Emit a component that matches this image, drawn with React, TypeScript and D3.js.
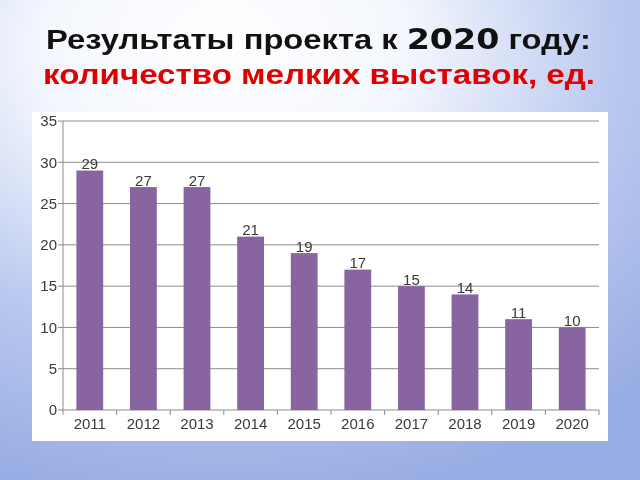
import React from "react";
import * as d3 from "d3";

const years = ["2011", "2012", "2013", "2014", "2015", "2016", "2017", "2018", "2019", "2020"];
const values = [29, 27, 27, 21, 19, 17, 15, 14, 11, 10];
const yTicks = [0, 5, 10, 15, 20, 25, 30, 35];
const titleLine1a = "Результаты проекта к ";
const titleLine1b = "2020";
const titleLine1c = " году:";
const titleLine2 = "количество мелких выставок, ед.";

const W = 640;
const H = 480;
const plot = { left: 63, right: 599, top: 121, bottom: 410 };

export default function App() {
  const x = d3.scaleBand<string>().domain(years).range([plot.left, plot.right]).paddingInner(0.5).paddingOuter(0.25);
  const xCat = d3.scaleBand<string>().domain(years).range([plot.left, plot.right]);
  const y = d3.scaleLinear().domain([0, 35]).range([plot.bottom, plot.top]);
  const font = "'Liberation Sans', Arial, sans-serif";

  return (
    <svg width={W} height={H} style={{ position: "fixed", left: 0, top: 0 }} fontFamily={font}>
      <defs>
        <radialGradient id="bg" cx="0.35" cy="0.1" r="0.95">
          <stop offset="0" stopColor="#ffffff" />
          <stop offset="0.3" stopColor="#f4f7fd" />
          <stop offset="0.65" stopColor="#b9c8ef" />
          <stop offset="1" stopColor="#98ade3" />
        </radialGradient>
      </defs>
      <rect x={0} y={0} width={W} height={H} fill="url(#bg)" />
      <text x={46} y={49} fontSize={27.5} fontWeight="bold" fill="#111" textLength={545} lengthAdjust="spacingAndGlyphs">
        {titleLine1a}
        <tspan fontFamily="'DejaVu Sans', Verdana, sans-serif" fontSize={28}>{titleLine1b}</tspan>
        {titleLine1c}
      </text>
      <text x={43} y={84} fontSize={28.5} fontWeight="bold" fill="#e00000" textLength={552} lengthAdjust="spacingAndGlyphs">
        {titleLine2}
      </text>
      <rect x={32} y={112} width={576} height={329} fill="#ffffff" />
      {yTicks.map((t) => (
        <g key={t}>
          <line x1={plot.left - 5} x2={plot.right} y1={y(t)} y2={y(t)} stroke="#8c8c8c" strokeWidth={1} />
          <text x={plot.left - 6} y={y(t)} dy="0.35em" textAnchor="end" fontSize={15} fill="#3a3a3a">
            {t}
          </text>
        </g>
      ))}
      <line x1={plot.left} x2={plot.left} y1={plot.top} y2={plot.bottom} stroke="#8c8c8c" />
      {years.map((yr) => (
        <line key={"tk" + yr} x1={xCat(yr)!} x2={xCat(yr)!} y1={plot.bottom} y2={plot.bottom + 5} stroke="#8c8c8c" />
      ))}
      <line x1={plot.right} x2={plot.right} y1={plot.bottom} y2={plot.bottom + 5} stroke="#8c8c8c" />
      {years.map((yr, i) => (
        <g key={yr}>
          <rect x={x(yr)!} y={y(values[i])} width={x.bandwidth()} height={y(0) - y(values[i])} fill="#8864a0" />
          <text x={x(yr)! + x.bandwidth() / 2} y={y(values[i]) - 1.5} textAnchor="middle" fontSize={15} fill="#3a3a3a">
            {values[i]}
          </text>
          <text x={xCat(yr)! + xCat.bandwidth() / 2} y={429} textAnchor="middle" fontSize={15} fill="#3a3a3a">
            {yr}
          </text>
        </g>
      ))}
    </svg>
  );
}
